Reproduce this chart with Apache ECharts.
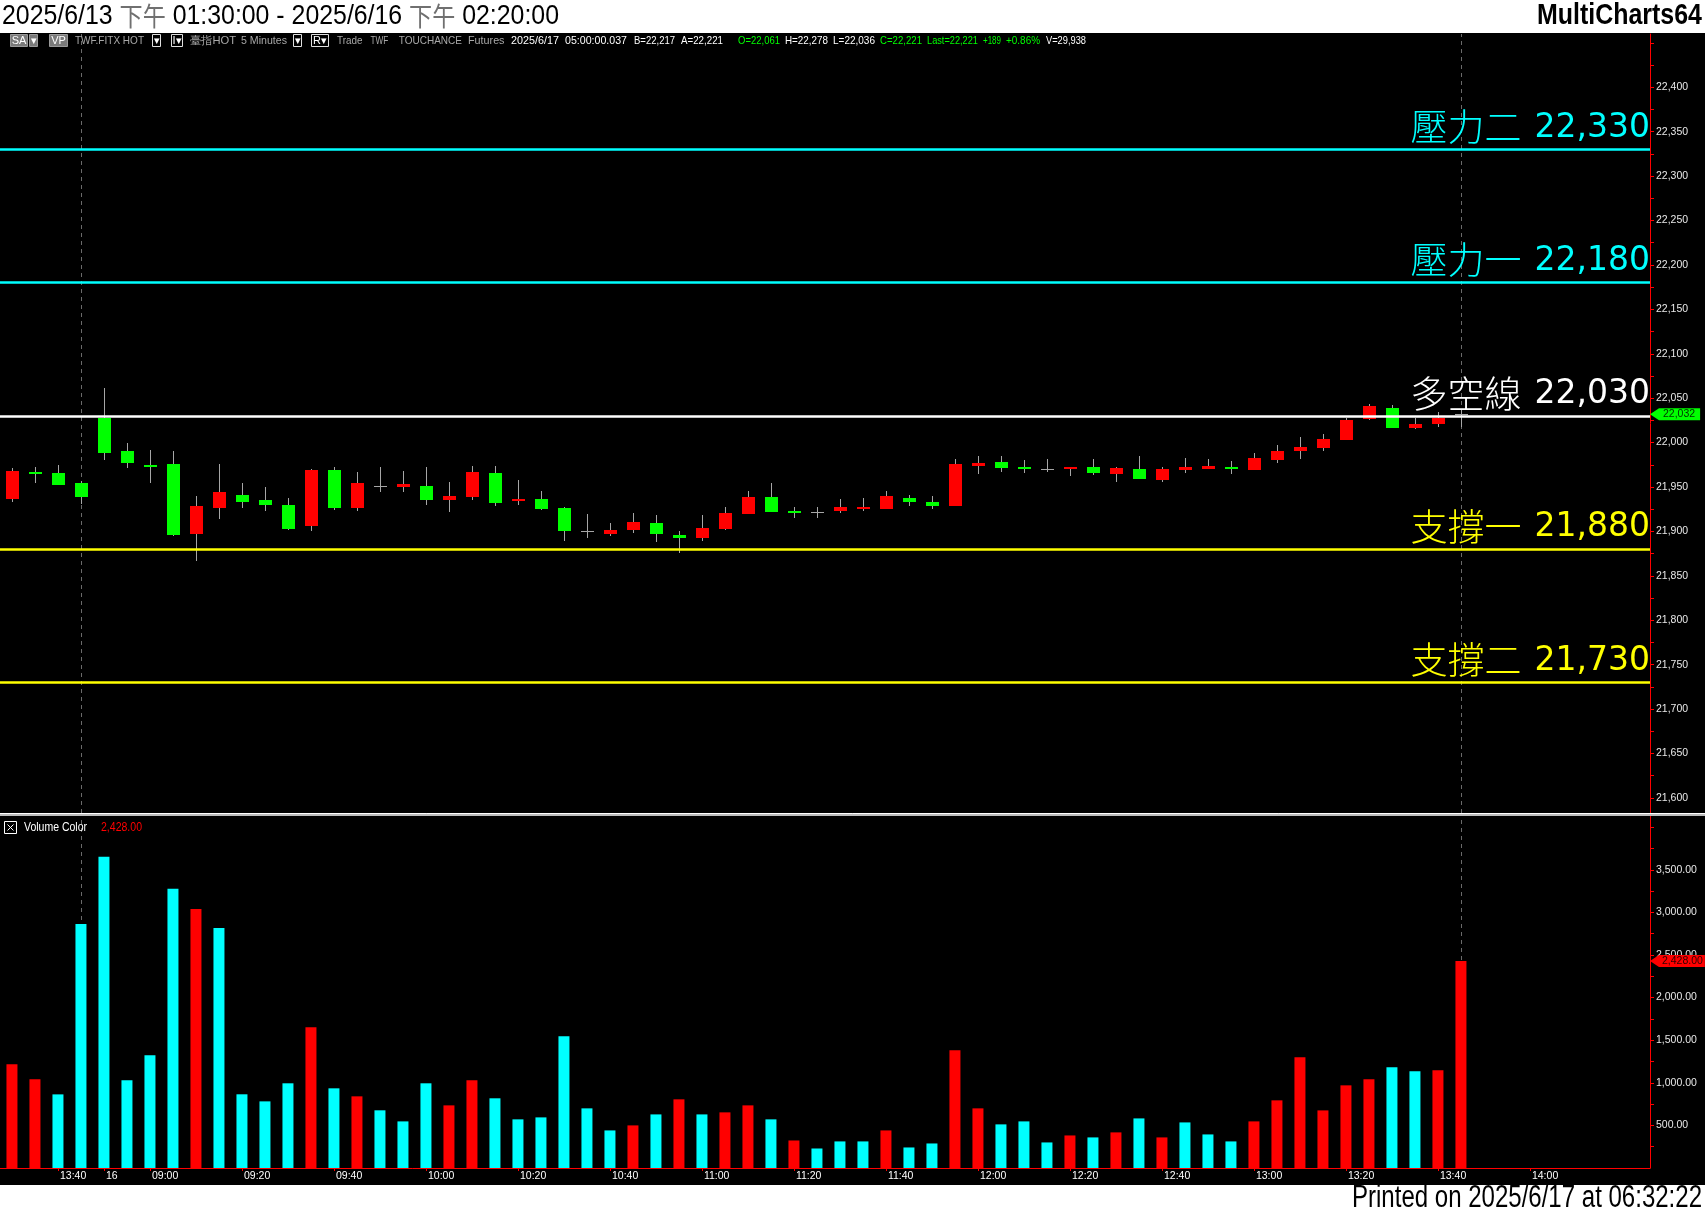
<!DOCTYPE html>
<html><head><meta charset="utf-8">
<script src="https://cdn.jsdelivr.net/npm/echarts@6/dist/echarts.min.js"></script>
<style>html,body{margin:0;padding:0;background:#000;}#c{width:1705px;height:1211px;}</style>
</head><body><div id="c"></div>
<script>
// ---------------- DATA ----------------
const times = ['13:30','13:35','13:40','13:45',
 '08:50','08:55','09:00','09:05','09:10','09:15','09:20','09:25','09:30','09:35','09:40','09:45','09:50','09:55',
 '10:00','10:05','10:10','10:15','10:20','10:25','10:30','10:35','10:40','10:45','10:50','10:55',
 '11:00','11:05','11:10','11:15','11:20','11:25','11:30','11:35','11:40','11:45','11:50','11:55',
 '12:00','12:05','12:10','12:15','12:20','12:25','12:30','12:35','12:40','12:45','12:50','12:55',
 '13:00','13:05','13:10','13:15','13:20','13:25','13:30','13:35','13:40','13:45','13:50','13:55','14:00'];
const openP  = [21936,21967,21966,21955,22028,21990,21975,21976,21897,21926,21941,21935,21930,21906,21969,21926,21951,21950,21951,21935,21939,21966,21935,21937,21926,21900,21898,21902,21909,21896,21893,21903,21920,21939,21923,21922,21923,21925,21925,21938,21933,21929,21974,21978,21972,21970,21970,21972,21964,21970,21958,21970,21971,21973,21970,21981,21990,21994,22003,22026,22039,22016,22021,22032];
const highP  = [21971,21972,21975,21957,22062,21999,21992,21990,21940,21976,21955,21950,21938,21970,21972,21967,21972,21968,21972,21956,21974,21974,21958,21946,21927,21920,21910,21921,21918,21901,21918,21928,21945,21954,21927,21928,21936,21938,21946,21941,21940,21982,21985,21985,21980,21981,21972,21982,21973,21985,21973,21983,21982,21979,21988,21997,22006,22010,22028,22043,22042,22028,22035,22037];
const lowP   = [21933,21955,21952,21931,21980,21971,21955,21895,21867,21914,21926,21923,21902,21901,21924,21923,21944,21944,21930,21922,21935,21929,21930,21924,21889,21893,21895,21898,21888,21876,21889,21902,21920,21922,21915,21915,21921,21923,21925,21929,21925,21929,21965,21967,21966,21967,21962,21964,21956,21959,21956,21966,21971,21965,21970,21977,21981,21990,22003,22026,22016,22015,22018,22017];
const closeP = [21968,21965,21953,21939,21989,21976,21973,21896,21929,21944,21933,21929,21903,21969,21926,21954,21951,21953,21935,21940,21967,21932,21937,21926,21900,21900,21902,21911,21897,21893,21904,21921,21939,21922,21921,21922,21928,21927,21940,21933,21928,21976,21977,21971,21970,21970,21972,21965,21971,21959,21970,21973,21974,21971,21983,21991,21995,22004,22026,22041,22017,22021,22028,22032];
const volume = [1217,1041,864,2865,3653,1029,1324,3276,3041,2818,865,782,994,1653,935,841,677,547,994,735,1029,818,571,594,1547,700,441,500,629,806,629,653,735,571,323,229,312,312,441,241,288,1382,700,512,547,300,382,359,418,582,359,535,394,312,547,794,1300,676,970,1041,1182,1135,1147,2428];
const volDir = ['u','u','d','d','d','d','d','d','u','d','d','d','d','u','d','u','d','d','d','u','u','d','d','d','d','d','d','u','d','u','d','u','u','d','u','d','d','d','u','d','d','u','u','d','d','d','u','d','u','d','u','d','d','d','u','u','u','u','u','u','d','d','u','u'];
const sessionEnds = [3, 63];
const levelNames  = ['壓力二','壓力一','多空線','支撐一','支撐二'];
const levelValues = [22330, 22180, 22030, 21880, 21730];
const priceTicks = [21600,21650,21700,21750,21800,21850,21900,21950,22000,22050,22100,22150,22200,22250,22300,22350,22400];
const volTicks = [500,1000,1500,2000,2500,3000,3500];
const xTickIdx  = [2,4,6,10,14,18,22,26,30,34,38,42,46,50,54,58,62,66];
const xTickText = ['13:40','16','09:00','09:20','09:40','10:00','10:20','10:40','11:00','11:20','11:40','12:00','12:20','12:40','13:00','13:20','13:40','14:00'];

// ---------------- STYLE ----------------
const levelColors = ['#00ffff','#00ffff','#ffffff','#ffff00','#ffff00'];
const FR = '"Liberation Sans",Arial,sans-serif';
const CJK = '"Noto Sans CJK TC","Noto Sans CJK SC",sans-serif';
const XMIN = -0.52, XMAX = 71.22;
const fmtInt = v => Number(v).toLocaleString('en-US');
const fmt2 = v => Number(v).toLocaleString('en-US',{minimumFractionDigits:2,maximumFractionDigits:2});
const last = closeP.length - 1;

const priceMinor = [];
for (let v = priceTicks[0]; v <= 22450; v += 25) priceMinor.push(v);
const volMinor = [];
for (let v = 250; v <= 4000; v += 250) volMinor.push(v);

const chart = echarts.init(document.getElementById('c'), null, {renderer:'canvas', width:1705, height:1211});
const meas = document.createElement('canvas').getContext('2d');
function tw(text, font) { meas.font = font; return meas.measureText(text).width; }

const gfx = [];
function fitText(text, font, x0, x1, y, color, z) {
  const w = tw(text, font);
  gfx.push({type:'text', z: z || 61, x:x0, y:y, scaleX:(x1-x0)/w, style:{text:text, font:font, fill:color, verticalAlign:'middle'}});
}

gfx.push({type:'rect', z:100, shape:{x:0,y:0,width:1705,height:33}, style:{fill:'#ffffff'}});
gfx.push({type:'rect', z:100, shape:{x:0,y:1185,width:1705,height:26}, style:{fill:'#ffffff'}});

// title
(function(){
  const fD = '28px ' + FR, fK = '26px ' + CJK;
  const segs = [['2025/6/13 ', fD, '#000'], ['下午', fK, '#707070'], [' 01:30:00 - 2025/6/16 ', fD, '#000'], ['下午', fK, '#707070'], [' 02:20:00', fD, '#000']];
  const total = segs.reduce((s, g) => s + tw(g[0], g[1]), 0);
  const sc = 557 / total;
  let x = 2;
  segs.forEach(g => {
    gfx.push({type:'text', z:101, x:x, y:16, scaleX:sc, style:{text:g[0], font:g[1], fill:g[2], verticalAlign:'middle'}});
    x += tw(g[0], g[1]) * sc;
  });
})();
fitText('MultiCharts64', 'bold 29px ' + FR, 1537, 1702, 16, '#000', 101);
fitText('Printed on 2025/6/17 at 06:32:22', '31px ' + FR, 1352, 1702, 1198, '#000', 101);

// pane separator
gfx.push({type:'rect', z:50, shape:{x:0,y:813,width:1705,height:3}, style:{fill:'#bdbdbd'}});
gfx.push({type:'line', z:51, shape:{x1:0,y1:813.5,x2:1705,y2:813.5}, style:{stroke:'#ffffff', lineWidth:1}});

// toolbar
const TBY = 41, gray = '#a8a8a8', TBF = '11px ' + FR;
function tbBox(x, w, filled, label) {
  gfx.push({type:'rect', z:60, shape:{x:Math.round(x)+0.5, y:TBY-6.5, width:w, height:12}, style:{fill: filled ? '#7a7a7a' : '#000', stroke: filled ? '#9a9a9a' : '#e0e0e0', lineWidth:1}});
  gfx.push({type:'text', z:61, x:Math.round(x)+0.5+w/2, y:TBY, style:{text:label, align:'center', verticalAlign:'middle', font:'11px ' + FR, fill:'#ffffff'}});
}
tbBox(10, 17, true, 'SA'); tbBox(28.5, 8, true, '▾'); tbBox(49, 18, true, 'VP');
tbBox(152, 8, false, '▾'); tbBox(170.5, 11, false, 'I▾');
tbBox(292.5, 8, false, '▾'); tbBox(311, 17, false, 'R▾');
[['TWF.FITX HOT',75,144,gray],['臺指HOT',190,236,gray],['5 Minutes',241,287,gray],
 ['Trade',337,362.5,gray],['TWF',370.5,388.4,gray],['TOUCHANCE',398.7,462,gray],['Futures',468,504.5,gray],
 ['2025/6/17',511,559,'#fff'],['05:00:00.037',565,627,'#fff'],['B=22,217',634,675,'#fff'],['A=22,221',681,723,'#fff'],
 ['O=22,061',738,780,'#00ff00'],['H=22,278',785,828,'#fff'],['L=22,036',833,875,'#fff'],['C=22,221',880,922,'#00ff00'],
 ['Last=22,221',927,978,'#00ff00'],['+189',983,1001,'#00ff00'],['+0.86%',1006,1040,'#00ff00'],['V=29,938',1046,1086,'#fff']
].forEach(t => fitText(t[0], TBF, t[1], t[2], TBY, t[3]));

// volume pane caption
gfx.push({type:'rect', z:60, shape:{x:4.5,y:821.5,width:12,height:12}, style:{fill:'#000', stroke:'#ffffff', lineWidth:1}});
gfx.push({type:'line', z:61, shape:{x1:7.5,y1:824.5,x2:13.5,y2:830.5}, style:{stroke:'#fff', lineWidth:1}});
gfx.push({type:'line', z:61, shape:{x1:13.5,y1:824.5,x2:7.5,y2:830.5}, style:{stroke:'#fff', lineWidth:1}});
fitText('Volume Color', '12px ' + FR, 24, 87, 828, '#ffffff');
fitText(fmt2(volume[last]), '12px ' + FR, 101, 142, 828, '#ff0000');

// candles via custom series
const candleData = openP.map((o,i) => [i, o, closeP[i], lowP[i], highP[i]]);
function renderCandle(params, api) {
  const i = api.value(0), o = api.value(1), c = api.value(2), l = api.value(3), h = api.value(4);
  const po = api.coord([i,o]), pc = api.coord([i,c]), pl = api.coord([i,l]), ph = api.coord([i,h]);
  const xc = Math.round(po[0]);
  const ch = [{type:'line', shape:{x1:xc+0.5, y1:Math.round(ph[1]), x2:xc+0.5, y2:Math.round(pl[1])}, style:{stroke:'#a6a6a6', lineWidth:1}}];
  if (o === c) {
    const y = Math.round(po[1]) + 0.5;
    ch.push({type:'line', shape:{x1:xc-6, y1:y, x2:xc+7, y2:y}, style:{stroke:'#a6a6a6', lineWidth:1}});
  } else {
    const top = Math.round(Math.min(po[1], pc[1]));
    let hgt = Math.round(Math.abs(po[1]-pc[1])); if (hgt < 2) hgt = 2;
    ch.push({type:'rect', shape:{x:xc-6, y:top, width:13, height:hgt}, style:{fill: c > o ? '#ff0000' : '#00ff00'}});
  }
  return {type:'group', children:ch};
}

const levelLines = levelValues.map((v,k) => ({
  yAxis: v,
  lineStyle: {color: levelColors[k], width: 2.5, type: 'solid'},
  label: {show:true, position:'insideEndTop', distance:[0,2],
          formatter: '{k|' + levelNames[k] + '}{n|' + fmtInt(v) + '}',
          rich: {k:{color: levelColors[k], fontSize:37, fontWeight:300, fontFamily:CJK, padding:[0,13,2,0]},
                 n:{color: levelColors[k], fontSize:33, fontFamily:'"DejaVu Sans",sans-serif'}}}
}));
levelLines.push({
  yAxis: closeP[last],
  lineStyle: {color:'rgba(0,0,0,0)', width:1},
  label: {show:true, position:'end', distance:9, formatter: fmtInt(closeP[last]), color:'#003000',
          backgroundColor:'#00ff00', padding:[1,5,0,4], fontSize:10.5, fontFamily:FR}
});

const yAxisBase = {
  position:'right',
  axisLine:{show:true, onZero:false, lineStyle:{color:'#ff0000', width:1}},
  splitLine:{show:false}
};

const option = {
  backgroundColor: '#000000',
  animation: false,
  graphic: gfx,
  grid: [
    {left:0, right:55, top:34, height:779, outerBoundsMode:'none'},
    {left:0, right:55, top:816, height:352, outerBoundsMode:'none'}
  ],
  xAxis: [
    {type:'value', gridIndex:0, min:XMIN, max:XMAX, show:false},
    {type:'value', gridIndex:1, min:XMIN, max:XMAX,
     axisLine:{show:true, onZero:false, lineStyle:{color:'#ff0000', width:1}},
     axisTick:{show:true, customValues:xTickIdx, length:3, lineStyle:{color:'#ff0000'}},
     axisLabel:{show:true, customValues:xTickIdx, formatter:v => xTickText[xTickIdx.indexOf(Math.round(v))],
                color:'#ffffff', fontSize:10.5, fontFamily:FR, align:'left', margin:3, padding:[0,0,0,2]},
     splitLine:{show:false}}
  ],
  yAxis: [
    Object.assign({type:'value', gridIndex:0, min:21583, max:22460,
     axisTick:{show:true, customValues:priceMinor, length:4, lineStyle:{color:'#ff0000'}},
     axisLabel:{show:true, customValues:priceTicks, formatter:v => fmtInt(v), color:'#e8e8e8', fontSize:10.5, fontFamily:FR, margin:6}}, yAxisBase),
    Object.assign({type:'value', gridIndex:1, min:0, max:4131,
     axisTick:{show:true, customValues:volMinor, length:4, lineStyle:{color:'#ff0000'}},
     axisLabel:{show:true, customValues:volTicks, formatter:v => fmt2(v), color:'#e8e8e8', fontSize:10.5, fontFamily:FR, margin:6}}, yAxisBase)
  ],
  series: [
    {type:'scatter', xAxisIndex:0, yAxisIndex:0, data:[[0, closeP[0]]], symbolSize:0, z:1, silent:true,
     markLine:{symbol:'none', silent:true, z:1, label:{show:false},
       lineStyle:{color:'#6a6a6a', type:[4,4], width:1},
       data: sessionEnds.map(i => ({xAxis:i}))}},
    {type:'scatter', xAxisIndex:1, yAxisIndex:1, data:[[0, 0]], symbolSize:0, z:1, silent:true,
     markLine:{symbol:'none', silent:true, z:1, label:{show:false},
       lineStyle:{color:'#6a6a6a', type:[4,4], width:1},
       data: sessionEnds.map(i => ({xAxis:i}))}},
    {type:'custom', xAxisIndex:0, yAxisIndex:0, z:10, data:candleData, encode:{x:0, y:[1,2,3,4]}, renderItem:renderCandle, clip:true},
    {type:'scatter', xAxisIndex:0, yAxisIndex:0, data:[[0, closeP[0]]], symbolSize:0, z:20, silent:true,
     markLine:{symbol:'none', silent:true, z:20, data: levelLines},
     markPoint:{silent:true, data:[{coord:[XMAX, closeP[last]], symbol:'path://M0,6L8,0L8,12Z', symbolSize:[9,12], symbolOffset:[4.5,0], itemStyle:{color:'#00ff00'}, label:{show:false}}]}},
    {type:'bar', xAxisIndex:1, yAxisIndex:1, barWidth:11, z:10,
     data: volume.map((v,i) => ({value:[i, v], itemStyle:{color: volDir[i] === 'u' ? '#ff0000' : '#00ffff'}}))},
    {type:'scatter', xAxisIndex:1, yAxisIndex:1, data:[[0, 0]], symbolSize:0, z:20, silent:true,
     markLine:{symbol:'none', silent:true, data:[{yAxis: volume[last], lineStyle:{color:'rgba(0,0,0,0)', width:1},
       label:{show:true, position:'end', distance:9, formatter: fmt2(volume[last]), color:'#300000', backgroundColor:'#ff0000', padding:[1,2,0,3], fontSize:10.5, fontFamily:FR}}]},
     markPoint:{silent:true, data:[{coord:[XMAX, volume[last]], symbol:'path://M0,6L8,0L8,12Z', symbolSize:[9,12], symbolOffset:[4.5,0], itemStyle:{color:'#ff0000'}, label:{show:false}}]}}
  ]
};
chart.setOption(option);
</script>
</body></html>
